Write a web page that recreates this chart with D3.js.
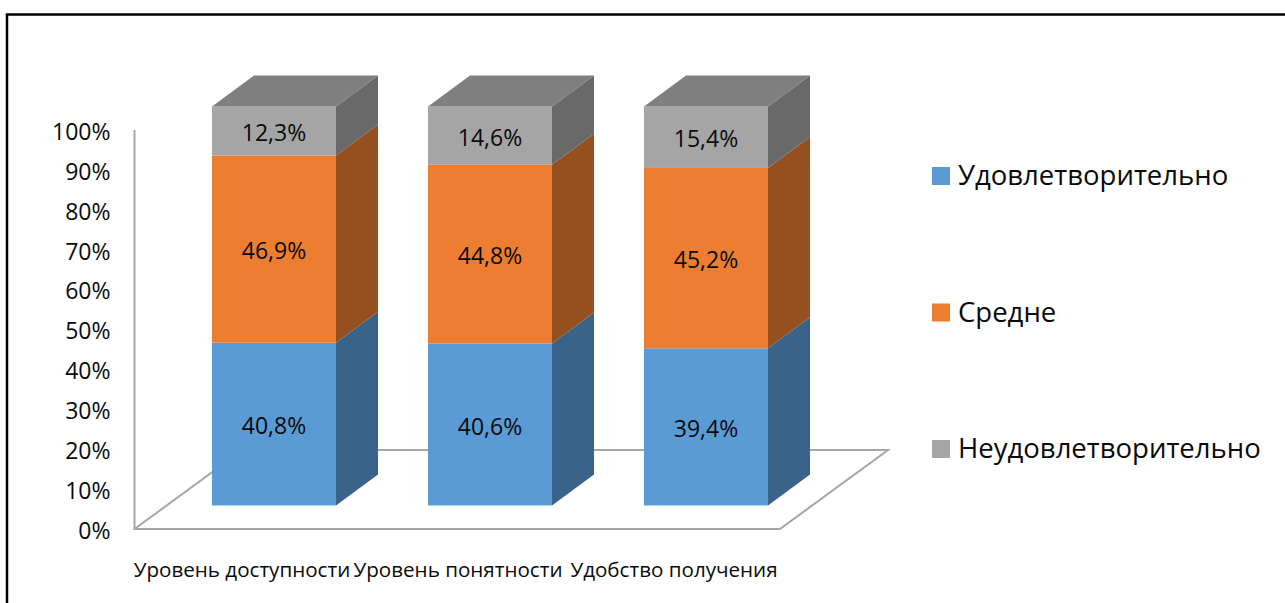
<!DOCTYPE html>
<html>
<head>
<meta charset="utf-8">
<script src="https://cdn.jsdelivr.net/npm/d3@7"></script>
<style>
html, body { margin: 0; padding: 0; background: #fff; }
svg { display: block; }
text { font-family: "Open Sans", sans-serif; fill: #0a0a0a; }
</style>
</head>
<body>
<svg></svg>
<script>
var categories = ["Уровень доступности", "Уровень понятности", "Удобство получения"];
var seriesNames = ["Удовлетворительно", "Средне", "Неудовлетворительно"];
var satisfied = [40.8, 40.6, 39.4];
var medium = [46.9, 44.8, 45.2];
var unsatisfied = [12.3, 14.6, 15.4];
var yTicks = [0, 10, 20, 30, 40, 50, 60, 70, 80, 90, 100];

var frontColors = ["#5b9bd5", "#ed7d31", "#a5a5a5"];
var sideColors = ["#3a6389", "#96501f", "#696969"];
var topColor = "#7f7f7f";

var width = 1285, height = 603;
var depthX = 42, depthY = 31;   // offset of the bars' back face

var svg = d3.select("svg").attr("width", width).attr("height", height);

// frame, cut by the window on the right and bottom
svg.append("path")
    .attr("d", "M7," + height + "V14.5H" + width)
    .attr("fill", "none")
    .attr("stroke", "#000")
    .attr("stroke-width", 2.5);

var x = d3.scaleBand().domain(categories).range([166, 814]).paddingInner(0.426).paddingOuter(0.213);
var y = d3.scaleLinear().domain([0, 100]).range([505.5, 106.5]);
var axisY = d3.scaleLinear().domain([0, 100]).range([529, 130]);

// floor of the 3d box
var floorLeft = 134.5, floorRight = 780, floorDx = 108, floorDy = 79;
svg.append("path")
    .attr("d", d3.line()([
        [floorLeft, axisY(100)], [floorLeft, axisY(0)], [floorRight, axisY(0)],
        [floorRight + floorDx, axisY(0) - floorDy], [floorLeft + floorDx, axisY(0) - floorDy],
        [floorLeft, axisY(0)]
    ]))
    .attr("fill", "none")
    .attr("stroke", "#a6a6a6")
    .attr("stroke-width", 2);

var yAxis = d3.axisLeft(axisY)
    .tickValues(yTicks)
    .tickSize(0)
    .tickPadding(24)
    .tickFormat(function(d) { return d + "%"; });

var yAxisG = svg.append("g").attr("transform", "translate(134.5,2)").call(yAxis);
yAxisG.select(".domain").remove();
yAxisG.selectAll("text").style("font-size", "23px").style("font-family", '"Open Sans", sans-serif');

// stack the three series per category
var rows = categories.map(function(c, i) {
    return { category: c, values: [satisfied[i], medium[i], unsatisfied[i]] };
});

var bars = svg.selectAll("g.bar")
    .data(rows)
    .join("g")
    .attr("class", "bar");

bars.each(function(d) {
    var g = d3.select(this);
    var x0 = x(d.category), x1 = x0 + x.bandwidth();
    var sum = 0;
    d.values.forEach(function(v, s) {
        var yb = y(sum), yt = y(sum + v);
        sum += v;
        g.append("polygon")
            .attr("points", [[x1, yb], [x1 + depthX, yb - depthY], [x1 + depthX, yt - depthY], [x1, yt]].join(" "))
            .attr("fill", sideColors[s]);
        g.append("rect")
            .attr("x", x0).attr("y", yt)
            .attr("width", x.bandwidth()).attr("height", yb - yt)
            .attr("fill", frontColors[s]);
        g.append("text")
            .attr("x", (x0 + x1) / 2)
            .attr("y", (yb + yt) / 2 + 10)
            .attr("text-anchor", "middle")
            .style("font-size", "23px")
            .text(v.toFixed(1).replace(".", ",") + "%");
    });
    g.append("polygon")
        .attr("points", [[x0, y(sum)], [x0 + depthX, y(sum) - depthY], [x1 + depthX, y(sum) - depthY], [x1, y(sum)]].join(" "))
        .attr("fill", topColor);
});

// category labels sit on the front edge of the floor
svg.selectAll("text.cat")
    .data(categories)
    .join("text")
    .attr("class", "cat")
    .attr("x", function(d) { return x(d) + x.bandwidth() / 2 - 32; })
    .attr("y", 577)
    .attr("text-anchor", "middle")
    .style("font-size", "20.6px")
    .text(function(d) { return d; });

// legend
var legendY = d3.scalePoint().domain(seriesNames).range([176, 449]);
var legend = svg.selectAll("g.legend")
    .data(seriesNames)
    .join("g")
    .attr("class", "legend")
    .attr("transform", function(d) { return "translate(932," + legendY(d) + ")"; });

legend.append("rect")
    .attr("y", -9).attr("width", 18).attr("height", 18)
    .attr("fill", function(d, i) { return frontColors[i]; });

legend.append("text")
    .attr("x", 26).attr("y", 9)
    .style("font-size", "27.5px")
    .text(function(d) { return d; });
</script>
</body>
</html>
